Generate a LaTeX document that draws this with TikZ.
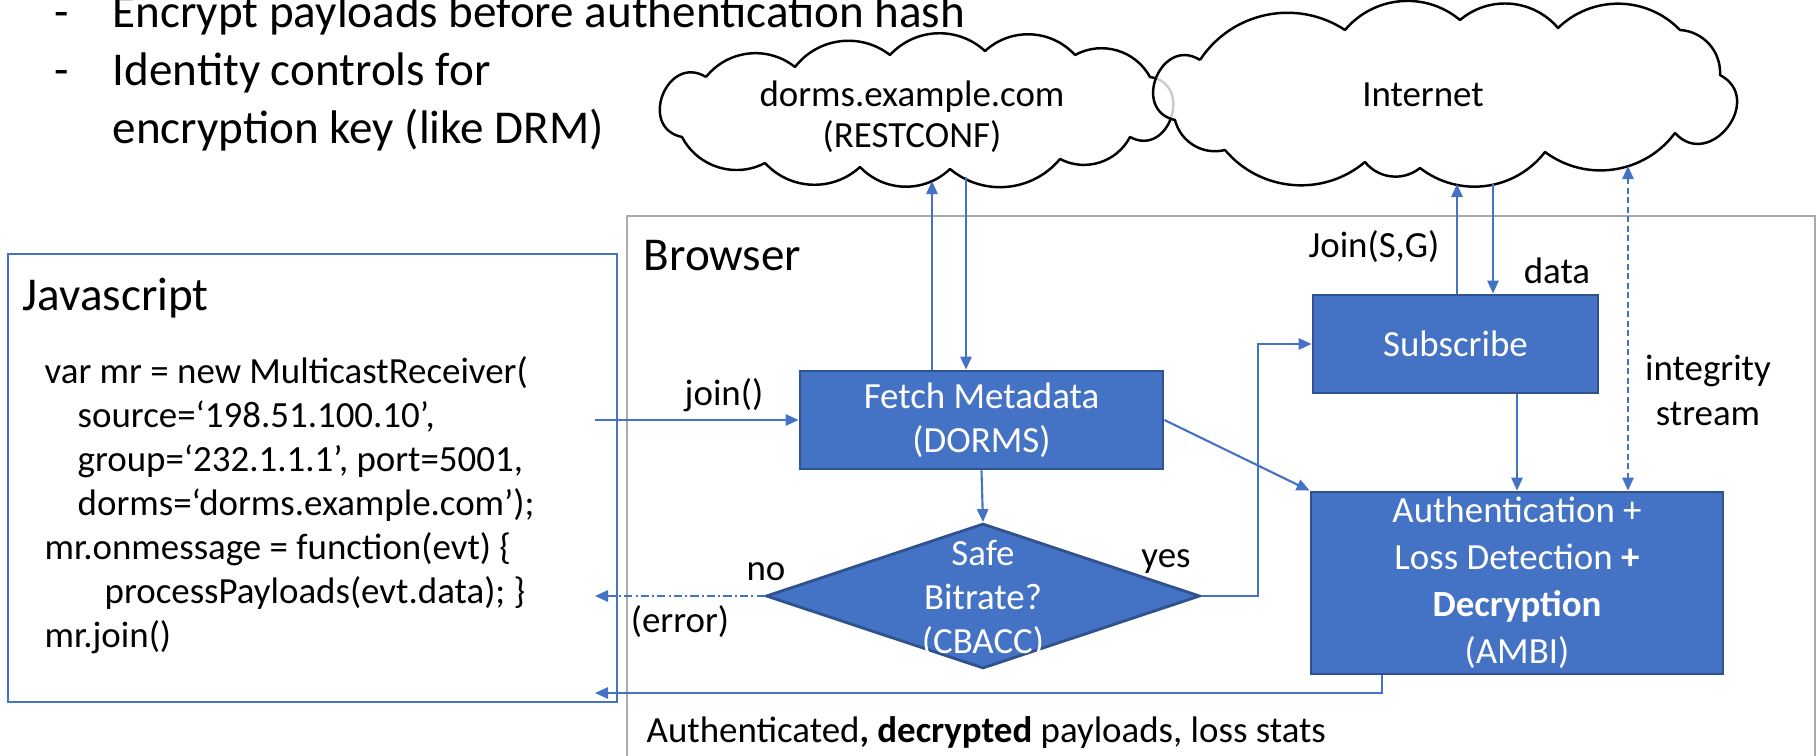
\documentclass[tikz,border=0pt]{standalone}
\usepackage{fontspec}
\setmainfont{Carlito}
\usetikzlibrary{shapes.geometric,arrows.meta}
\definecolor{mc-blue}{RGB}{68,114,196}
\definecolor{mc-edge}{RGB}{47,82,143}
\definecolor{mc-gray}{RGB}{170,170,170}

\newcommand{\mctext}{\fontsize{10.5}{12.5}\selectfont}
\newcommand{\mcbig}{\fontsize{13.4}{16.5}\selectfont}

\tikzset{
    >={Triangle[length=3.7pt,width=3.2pt]},
    mcbox/.style={draw=mc-edge, fill=mc-blue, line width=0.8pt, text=white,
        align=center, font=\mctext, inner sep=0pt},
    mcdecision/.style={diamond, draw=mc-edge, fill=mc-blue, line width=0.8pt,
        inner sep=0pt, minimum width=4.34cm, minimum height=1.45cm},
    mccloud/.style={draw=black, line width=0.7pt, fill=white, line join=round},
    puff/.style={bend right=45},
    endpuff/.style={bend right=100, looseness=1.8},
    mcflow/.style={draw=mc-blue, line width=0.6pt, ->},
    mclabel/.style={font=\mctext, inner sep=0pt, align=center},
    mctitle/.style={font=\mcbig, inner sep=0pt, anchor=base west},
}

\begin{document}
\begin{tikzpicture}
    \useasboundingbox (0,0) rectangle (18.2,7.55);

    % notes at the top
    \node[mctitle] (dash1) at (0.54,7.28) {-};
    \node[mctitle] (note1) at (1.12,7.28) {Encrypt payloads before authentication hash};
    \node[mctitle] (dash2) at (0.54,6.70) {-};
    \node[mctitle] (note2) at (1.12,6.70) {Identity controls for};
    \node[mctitle] (note3) at (1.12,6.12) {encryption key (like DRM)};

    % clouds
    \draw[mccloud] (7.06,6.78) to[endpuff] (6.82,6.18) to[puff] (7.65,5.92) to[puff] (8.60,5.88)
        to[puff] (9.50,5.86) to[puff] (10.60,5.96) to[puff] (11.30,6.18) to[endpuff] (11.50,6.78)
        to[puff] (10.75,7.00) to[puff] (9.85,7.04) to[puff] (8.90,7.00) to[puff] (7.95,6.88)
        to[puff] (7.06,6.78);
    \draw[mccloud, fill opacity=0.8] (12.00,6.95) to[endpuff] (11.75,6.35) to[puff] (12.25,6.05)
        to[puff] (13.65,5.93) to[puff] (14.20,5.87) to[puff] (15.45,6.03) to[puff] (16.75,6.22)
        to[endpuff] (17.20,6.80) to[puff] (16.80,7.25) to[puff] (15.58,7.27) to[puff] (14.60,7.35)
        to[puff] (13.45,7.25) to[puff] (12.00,6.95);
    \node[mclabel, font=\fontsize{10.5}{11.7}\selectfont] (dorms) at (9.12,6.38) {dorms.example.com\\(RESTCONF)};
    \node[mclabel] (inet) at (14.23,6.60) {Internet};

    % containers
    \draw[mc-gray, line width=0.8pt] (6.27,-0.1) |- (18.15,5.39) -- (18.15,-0.1);
    \draw[mc-blue, line width=0.8pt] (0.08,0.53) rectangle (6.17,5.01);
    \node[mctitle] (browser) at (6.43,4.85) {Browser};
    \node[mctitle] (js) at (0.22,4.45) {Javascript};

    % javascript code
    \node[mclabel, anchor=base west] (code1) at (0.44,3.72) {var mr = new MulticastReceiver(};
    \node[mclabel, anchor=base west] (code2) at (0.77,3.28) {source=‘198.51.100.10’,};
    \node[mclabel, anchor=base west] (code3) at (0.77,2.84) {group=‘232.1.1.1’, port=5001,};
    \node[mclabel, anchor=base west] (code4) at (0.77,2.40) {dorms=‘dorms.example.com’);};
    \node[mclabel, anchor=base west] (code5) at (0.44,1.96) {mr.onmessage = function(evt) \{};
    \node[mclabel, anchor=base west] (code6) at (1.04,1.52) {processPayloads(evt.data); \}};
    \node[mclabel, anchor=base west] (code7) at (0.44,1.08) {mr.join()};

    % browser steps
    \node[mcbox, minimum width=3.63cm, minimum height=0.98cm] (fetch) at (9.815,3.35) {Fetch Metadata\\(DORMS)};
    \node[mcdecision] (rate) at (9.83,1.59) {};
    \node[mclabel, text=white] (ratetxt) at (9.83,1.56) {Safe\\Bitrate?\\(CBACC)};
    \node[mcbox, minimum width=2.85cm, minimum height=0.98cm] (subscribe) at (14.555,4.11) {Subscribe};
    \node[mcbox, minimum width=4.12cm, minimum height=1.82cm, font=\fontsize{10.5}{13.4}\selectfont] (auth) at (15.17,1.72)
        {Authentication +\\Loss Detection \textbf{+}\\\textbf{Decryption}\\(AMBI)};

    % free ends
    \coordinate (joinsrc) at (5.95,3.35);
    \coordinate (errdst) at (5.95,1.59);
    \coordinate (retdst) at (5.95,0.62);
    \coordinate (restup) at (9.32,5.74);
    \coordinate (restdown) at (9.66,5.78);
    \coordinate (sgup) at (14.57,5.71);
    \coordinate (sgdown) at (14.93,5.71);
    \coordinate (integtop) at (16.28,5.89);

    % connectors
    \draw[mcflow] (joinsrc) -- (fetch.west);
    \node[mclabel, anchor=base] (joinlbl) at (7.24,3.50) {join()};
    \draw[mcflow] (fetch.north -| restup) -- (restup);
    \draw[mcflow] (restdown) -- (fetch.north -| restdown);
    \draw[mcflow] (fetch.south) -- (rate.north);
    \draw[mcflow, dash pattern=on 2.3pt off 0.9pt on 0.6pt off 0.9pt] (rate.west) -- (errdst);
    \node[mclabel, anchor=base] (nolbl) at (7.66,1.75) {no};
    \node[mclabel, anchor=base] (errlbl) at (6.80,1.23) {(error)};
    \draw[mcflow] (rate.east) -- ++(0.57,0) |- (subscribe.west);
    \node[mclabel, anchor=base] (yeslbl) at (11.66,1.88) {yes};
    \draw[mcflow] (fetch.east) -- (auth.north west);
    \draw[mcflow] (subscribe.north -| sgup) -- (sgup);
    \draw[mcflow] (sgdown) -- (subscribe.north -| sgdown);
    \node[mclabel, anchor=base] (sglbl) at (13.74,4.98) {Join(S,G)};
    \node[mclabel, anchor=base] (datalbl) at (15.57,4.72) {data};
    \draw[mcflow] (auth.north |- subscribe.south) -- (auth.north);
    \draw[mcflow, <->, dash pattern=on 1.7pt off 1pt] (integtop) -- (auth.north -| integtop);
    \node[mclabel, anchor=base] (integlbl) at (17.08,3.75) {integrity};
    \node[mclabel, anchor=base] (streamlbl) at (17.08,3.30) {stream};
    \draw[mcflow] ([xshift=-1.35cm]auth.south) |- (retdst);
    \node[mclabel, anchor=base west] (outlbl) at (6.46,0.13) {Authenticated\textbf{, decrypted} payloads, loss stats};
\end{tikzpicture}
\end{document}
